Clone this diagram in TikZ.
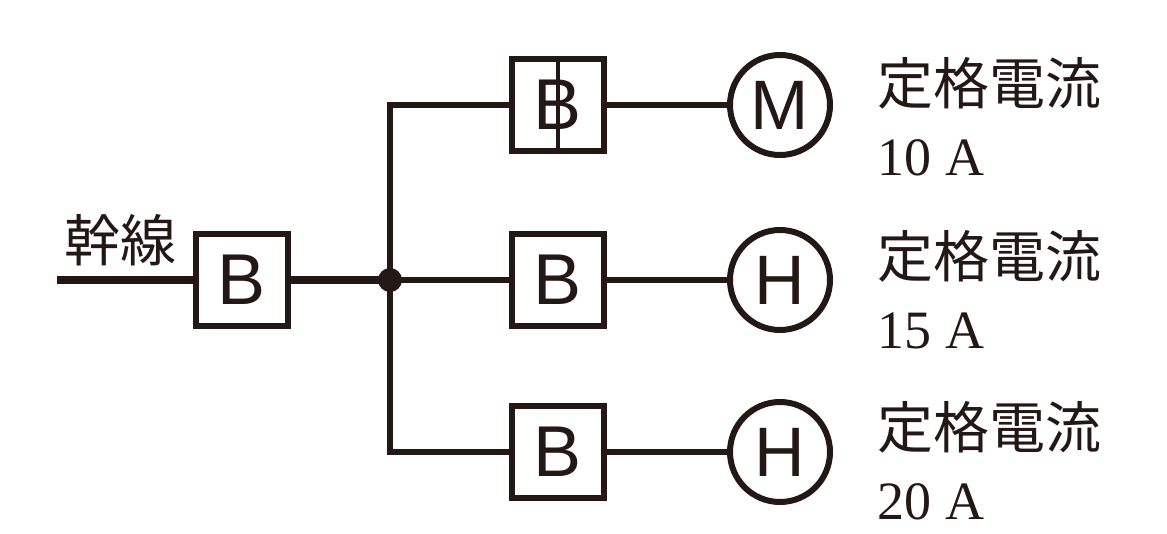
\documentclass[tikz,border=0pt]{standalone}
\usepackage{fontspec}
\setmainfont{Liberation Serif}
\setsansfont{Liberation Sans}
\newfontfamily\cjk{Noto Sans CJK JP}
\definecolor{ink}{RGB}{35,24,21}
\begin{document}
\begin{tikzpicture}[x=1pt,y=-1pt,
  wire/.style={draw=ink,line width=6pt},
  thick wire/.style={draw=ink,line width=8pt},
  brk/.style={draw=ink,line width=6pt,minimum width=92pt,minimum height=92pt,inner sep=0pt,font=\sffamily\fontsize{72}{72}\selectfont,text=ink},
  load/.style={circle,draw=ink,line width=6pt,minimum size=100pt,inner sep=0pt,font=\sffamily\fontsize{70}{70}\selectfont,text=ink},
  lab/.style={anchor=west,align=left,text=ink,font=\fontsize{54}{71}\selectfont}]
\useasboundingbox (0,0) rectangle (1167,533);
\coordinate (start) at (57,280);
\node[brk] (b0) at (242,280) {B};
\fill[ink] (390,280) circle (12pt) coordinate (j);
\coordinate (jt) at (390,105);
\coordinate (jb) at (390,452);
\node[brk] (b1) at (558,105) {B};
\node[brk] (b2) at (558,280) {B};
\node[brk] (b3) at (558,452) {B};
\draw[ink,line width=4pt] (b1.north) -- (b1.south);
\node[load] (m1) at (780,105) {M};
\node[load] (m2) at (780,280) {H};
\node[load] (m3) at (780,452) {H};
\node[text=ink,anchor=south west,inner sep=0pt,font=\cjk\fontsize{56}{56}\selectfont] (kan) at (64,266) {幹線};
\draw[thick wire] (start) -- (b0.west);
\draw[thick wire] (b0.east) -- (j);
\draw[wire] ([yshift=-3pt]jt) -- ([yshift=3pt]jb);
\draw[wire] ([xshift=-3pt]jt) -- (b1.west);
\draw[wire] (j) -- (b2.west);
\draw[wire] ([xshift=-3pt]jb) -- (b3.west);
\draw[wire] (b1.east) -- (m1.west);
\draw[wire] (b2.east) -- (m2.west);
\draw[wire] (b3.east) -- (m3.west);
\node[lab] (l1) at (874,117) {{\cjk\fontsize{56}{71}\selectfont 定格電流}\\10 A};
\node[lab] (l2) at (874,290) {{\cjk\fontsize{56}{71}\selectfont 定格電流}\\15 A};
\node[lab] (l3) at (874,461) {{\cjk\fontsize{56}{71}\selectfont 定格電流}\\20 A};
\end{tikzpicture}
\end{document}
